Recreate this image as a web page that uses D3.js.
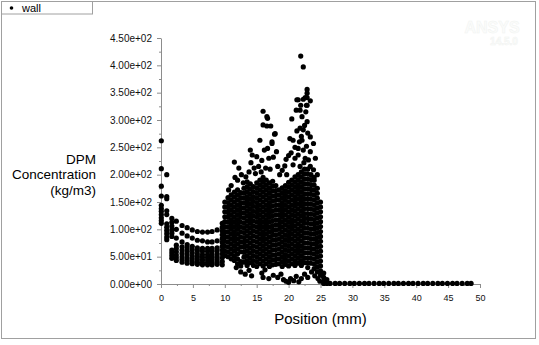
<!DOCTYPE html>
<html>
<head>
<meta charset="utf-8">
<script src="https://cdn.jsdelivr.net/npm/d3@7/dist/d3.min.js"></script>
<style>
  html, body { margin: 0; padding: 0; background: #fff; }
  svg { display: block; font-family: "Liberation Sans", Arial, sans-serif; }
</style>
</head>
<body>
<svg id="chart" width="539" height="345"></svg>
<script>
// DPM concentration along the wall, position in mm.

// Inlet section: node positions (mm) and the values stacked at each node
const inletPos = [0.05, 0.9, 1.7, 2.4, 3.3, 4.1, 4.9, 5.7, 6.5, 7.3, 8.0, 8.8, 9.6];
const inletVals = [
  [262, 211, 179, 161, 144, 138, 133, 127, 121, 116, 111],
  [200, 160, 156, 134, 127, 110, 104, 98, 92, 86, 81],
  [120, 113, 106, 99, 93, 87, 62, 57, 52, 47],
  [115, 100, 84, 71, 65, 59, 53, 48, 43],
  [107, 93, 77, 68, 62, 56, 50, 45, 40],
  [103, 88, 72, 66, 60, 54, 48, 43, 38],
  [99, 84, 69, 63, 57, 51, 46, 41, 37],
  [96, 80, 66, 61, 55, 50, 45, 40, 36],
  [95, 79, 65, 60, 54, 49, 44, 39, 35],
  [95, 77, 65, 60, 54, 49, 44, 39, 35],
  [96, 77, 65, 60, 54, 49, 44, 39, 35],
  [99, 79, 66, 61, 55, 50, 45, 40, 36],
  [111, 104, 97, 90, 83, 76, 69, 62, 55, 48, 41, 35]
];

// Deposition zone: node positions (mm) and values at each node
const corePos = [10.0, 10.5, 11.0, 11.5, 12.0, 12.5, 13.0, 13.5, 14.0, 14.5, 15.0, 15.5,
  16.0, 16.5, 17.0, 17.5, 18.0, 18.5, 19.0, 19.5, 20.0, 20.5, 21.0, 21.5, 22.0, 22.5,
  23.0, 23.5, 24.0, 24.5, 25.0];
const coreVals = [
  [150, 141, 132, 123, 114, 105, 96, 87, 78, 69, 60, 52],
  [158, 149, 140, 131, 122, 113, 104, 95, 86, 77, 68, 59, 50],
  [163, 154, 145, 136, 127, 118, 109, 100, 91, 82, 73, 64, 55, 46],
  [168, 159, 150, 141, 132, 123, 114, 105, 96, 87, 78, 69, 60, 51, 43],
  [172, 163, 154, 145, 136, 127, 118, 109, 100, 91, 82, 73, 64, 55, 46, 37],
  [167, 158, 149, 140, 131, 122, 113, 104, 95, 86, 77, 68, 59, 41, 33],
  [175, 166, 157, 148, 139, 130, 121, 112, 103, 94, 85, 76, 67, 58, 49, 40],
  [178, 169, 160, 151, 142, 133, 124, 115, 106, 97, 88, 79, 70, 61, 52, 43, 34],
  [183, 174, 165, 156, 147, 138, 129, 120, 111, 102, 93, 84, 75, 66, 57, 48, 39],
  [178, 169, 160, 151, 142, 133, 124, 115, 106, 97, 88, 79, 70, 61, 52, 43, 34],
  [185, 176, 167, 158, 149, 140, 131, 122, 113, 104, 95, 86, 77, 68, 59, 50, 41, 32],
  [190, 181, 172, 163, 154, 145, 136, 127, 118, 109, 100, 91, 82, 73, 64, 55, 46, 37],
  [195, 186, 177, 168, 159, 150, 141, 132, 123, 114, 105, 96, 87, 78, 69, 60, 51, 42, 33],
  [190, 181, 172, 163, 154, 145, 136, 127, 118, 109, 100, 91, 82, 73, 64, 55, 46, 37],
  [185, 176, 167, 158, 149, 140, 131, 122, 113, 104, 95, 86, 77, 68, 59, 50, 41, 32],
  [188, 179, 170, 161, 152, 143, 134, 125, 116, 107, 98, 89, 80, 71, 62, 53, 44, 35],
  [180, 171, 162, 153, 144, 135, 126, 117, 108, 99, 90, 81, 72, 63, 54, 45, 36],
  [172, 163, 154, 145, 136, 127, 118, 109, 100, 91, 82, 73, 64, 55, 46, 37],
  [176, 167, 158, 149, 140, 131, 122, 113, 104, 95, 86, 77, 68, 59, 50, 41, 32],
  [180, 171, 162, 153, 144, 135, 126, 117, 108, 99, 90, 81, 72, 63, 54, 45, 36],
  [186, 177, 168, 159, 150, 141, 132, 123, 114, 105, 96, 87, 78, 69, 60, 51, 42, 33],
  [190, 181, 172, 163, 154, 145, 136, 127, 118, 109, 100, 91, 82, 73, 64, 55, 46, 37],
  [196, 187, 178, 169, 160, 151, 142, 133, 124, 115, 106, 97, 88, 79, 70, 61, 52, 43, 34],
  [200, 191, 182, 173, 164, 155, 146, 137, 128, 119, 110, 101, 92, 83, 74, 65, 56, 47, 38],
  [205, 196, 187, 178, 169, 160, 151, 142, 133, 124, 115, 106, 97, 88, 79, 70, 61, 52, 43, 34],
  [210, 201, 192, 183, 174, 165, 156, 147, 138, 129, 120, 111, 102, 93, 84, 75, 66, 57, 48, 39],
  [210, 201, 192, 183, 174, 165, 156, 147, 138, 129, 120, 111, 102, 93, 84, 75, 66, 57, 48, 39, 30],
  [200, 191, 182, 173, 164, 155, 146, 137, 128, 119, 110, 101, 92, 83, 74, 65, 56, 47, 38],
  [190, 181, 172, 163, 154, 145, 136, 127, 118, 109, 100, 91, 82, 73, 64, 55, 46, 37, 28],
  [175, 166, 157, 148, 139, 130, 121, 112, 103, 94, 85, 76, 67, 58, 49, 40, 31, 22],
  [150, 141, 132, 123, 114, 105, 96, 87, 78, 69, 60, 51, 42, 33, 24, 16]
];

// Isolated high and low readings in the deposition zone (position mm, value)
const scatterPos = [
  10.6, 11.0, 11.5, 11.6, 12.0, 12.2, 12.6, 12.9, 13.3, 13.5, 13.8, 14.0, 14.1, 14.3, 14.6,
  14.8, 15.0, 15.3, 15.5, 15.7, 15.8, 16.0, 16.0, 16.2, 16.4, 16.6, 16.6, 16.7, 16.7, 16.9,
  17.1, 17.2, 17.4, 17.4, 17.6, 17.8, 17.9, 18.1, 18.3, 18.6, 19.0, 19.4, 19.6, 19.7, 20.0,
  20.2, 20.4, 20.5, 20.7, 20.7, 21.0, 21.0, 21.2, 21.3, 21.3, 21.5, 21.5, 21.5, 21.7, 21.8,
  21.8, 21.8, 21.9, 21.9, 22.0, 22.1, 22.1, 22.3, 22.3, 22.3, 22.3, 22.4, 22.5, 22.6, 22.6,
  22.7, 22.8, 22.8, 22.9, 22.9, 22.9, 22.9, 22.9, 23.0, 23.1, 23.4, 23.4, 23.4, 23.4, 23.9,
  23.9, 24.0, 24.2, 24.5,
  11.8, 12.5, 13.2, 13.8, 14.2, 15.8, 16.0, 16.3, 16.9, 17.6, 18.3, 18.8, 19.2, 19.6, 20.0,
  20.3, 20.8, 21.2, 21.6, 22.0, 22.5, 23.0, 23.6, 24.1, 24.6, 24.9
];
const scatterVals = [
  172, 180, 223, 195, 190, 212, 200, 185, 196, 187, 205, 245, 222, 236, 212,
  202, 233, 215, 263, 205, 226, 316, 291, 245, 212, 306, 289, 303, 248, 230,
  210, 289, 257, 260, 232, 274, 275, 242, 215, 200, 208, 216, 228, 200, 235,
  266, 240, 302, 263, 218, 230, 250, 318, 337, 280, 337, 248, 236, 260, 285,
  318, 215, 327, 417, 270, 306, 263, 397, 338, 282, 245, 222, 290, 341, 230,
  315, 327, 252, 356, 349, 341, 327, 297, 276, 227, 335, 269, 242, 215, 257,
  209, 195, 230, 200,
  30, 22, 18, 25, 15, 20, 12, 26, 10, 16, 12, 18, 8, 5, 3,
  10, 6, 14, 4, 10, 18, 12, 22, 15, 10, 5
];

// Downstream section: nodes past the deposition zone
const tailPos = [25.5, 26.0, 26.5, 27.3, 28.0, 28.8, 29.6, 30.3, 31.1, 31.9, 32.6, 33.4,
  34.2, 34.9, 35.7, 36.5, 37.2, 38.0, 38.8, 39.5, 40.3, 41.1, 41.8, 42.6, 43.4, 44.1,
  44.9, 45.7, 46.4, 47.2, 48.0, 48.6];
const tailVals = [
  [20, 12, 5, 1], [8, 3, 1], [1], [1], [1], [1], [1], [1], [1], [1], [1], [1],
  [1], [1], [1], [1], [1], [1], [1], [1], [1], [1], [1], [1], [1], [1],
  [1], [1], [1], [1], [1], [1]
];

// Axis ticks and labels
const xTicks = [0, 5, 10, 15, 20, 25, 30, 35, 40, 45, 50];
const xMinorTicks = [2.5, 7.5, 12.5, 17.5, 22.5, 27.5, 32.5, 37.5, 42.5, 47.5];
const yTicks = [0, 50, 100, 150, 200, 250, 300, 350, 400, 450];
const yTickLabels = ["0.00e+00", "5.00e+01", "1.00e+02", "1.50e+02", "2.00e+02",
  "2.50e+02", "3.00e+02", "3.50e+02", "4.00e+02", "4.50e+02"];
const yMinorTicks = [25, 75, 125, 175, 225, 275, 325, 375, 425];
const yTitleLines = ["DPM", "Concentration", "(kg/m3)"];
const xTitle = "Position (mm)";
const seriesName = "wall";

const svg = d3.select("#chart");
const x = d3.scaleLinear().domain([0, 50]).range([161, 480]);
const y = d3.scaleLinear().domain([0, 450]).range([284, 38]);

// outer frame
svg.append("rect").attr("x", 1.5).attr("y", 1.5).attr("width", 534).attr("height", 337)
  .attr("fill", "#fff").attr("stroke", "#a0a0a0").attr("stroke-width", 1);

// faint product watermark
const wm = svg.append("g").attr("fill", "#fbfcfb").attr("stroke", "#f1f3f1").attr("stroke-width", 0.5);
wm.append("text").attr("x", 492).attr("y", 33).attr("text-anchor", "middle")
  .attr("font-size", 16).attr("font-weight", "bold").text("ANSYS");
wm.append("text").attr("x", 504).attr("y", 45).attr("text-anchor", "middle")
  .attr("font-size", 10).attr("font-weight", "bold").text("14.5.0");

// legend box
svg.append("rect").attr("x", 1.5).attr("y", 1.5).attr("width", 91).attr("height", 12.5)
  .attr("fill", "#fff").attr("stroke", "#a0a0a0");
svg.append("circle").attr("cx", 11.5).attr("cy", 8).attr("r", 1.8).attr("fill", "#000");
svg.append("text").attr("x", 22).attr("y", 12.3).attr("font-size", 11).attr("fill", "#000").text(seriesName);

// axes
const styleAxis = g => {
  g.select(".domain").attr("stroke", "#8c8c8c");
  g.selectAll(".tick line").attr("stroke", "#8c8c8c");
  g.selectAll(".tick text").attr("fill", "#111").attr("font-family", "Liberation Sans, Arial, sans-serif");
};

svg.append("g").attr("transform", "translate(0,284)")
  .call(d3.axisBottom(x).tickValues(xTicks).tickSize(4).tickPadding(7).tickSizeOuter(0))
  .call(g => g.selectAll(".tick text").attr("font-size", 9))
  .call(styleAxis);
svg.append("g").attr("transform", "translate(0,284)")
  .call(d3.axisBottom(x).tickValues(xMinorTicks).tickSize(2).tickFormat("").tickSizeOuter(0))
  .call(g => g.select(".domain").remove())
  .call(styleAxis);

svg.append("g").attr("transform", "translate(161,0)")
  .call(d3.axisLeft(y).tickValues(yTicks).tickSize(4).tickPadding(5).tickSizeOuter(0)
    .tickFormat((d, i) => yTickLabels[i]))
  .call(g => g.selectAll(".tick text").attr("font-size", 10))
  .call(styleAxis);
svg.append("g").attr("transform", "translate(161,0)")
  .call(d3.axisLeft(y).tickValues(yMinorTicks).tickSize(2).tickFormat("").tickSizeOuter(0))
  .call(g => g.select(".domain").remove())
  .call(styleAxis);

// axis titles
svg.append("text").attr("x", x(25)).attr("y", 324).attr("text-anchor", "middle")
  .attr("font-size", 15).attr("fill", "#000").text(xTitle);
svg.append("g").selectAll("text").data(yTitleLines).join("text")
  .attr("x", 96).attr("y", (d, i) => 163.5 + i * 15.5)
  .attr("text-anchor", "end").attr("font-size", 13.5).attr("fill", "#000").text(d => d);

// flatten node columns into points
const points = [];
const addColumns = (pos, vals) => pos.forEach((p, i) => vals[i].forEach(v => points.push([p, v])));
addColumns(inletPos, inletVals);
addColumns(corePos, coreVals);
addColumns(tailPos, tailVals);
scatterPos.forEach((p, i) => points.push([p, scatterVals[i]]));

svg.append("g").selectAll("circle").data(points).join("circle")
  .attr("cx", d => x(d[0])).attr("cy", d => y(d[1])).attr("r", 2.6).attr("fill", "#000");
</script>
</body>
</html>
